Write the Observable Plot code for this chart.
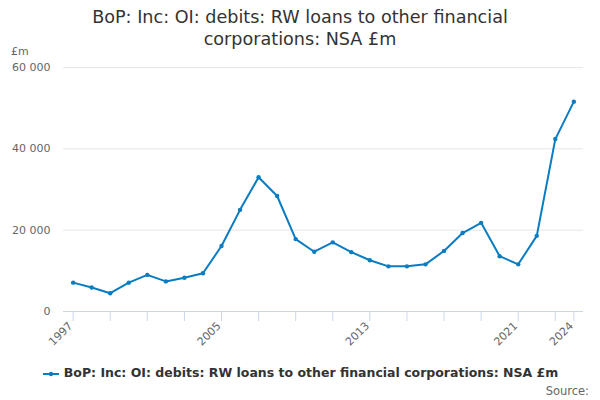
<!DOCTYPE html>
<html>
<head>
<meta charset="utf-8">
<script src="https://cdn.jsdelivr.net/npm/d3@7"></script>
<script src="https://cdn.jsdelivr.net/npm/@observablehq/plot@0.6"></script>
<style>
  html, body { margin: 0; padding: 0; background: #fff; }
  body { width: 600px; height: 400px; position: relative; font-family: "DejaVu Sans", sans-serif; overflow: hidden; }
  #title { position: absolute; top: 6px; left: 0; width: 600px; text-align: center; font-size: 17.6px; line-height: 22.4px; color: #333; }
  #chart { position: absolute; top: 45px; left: 0; }
  #unit { position: absolute; top: 45px; left: 11px; font-size: 11px; color: #666; }
  #legend { position: absolute; top: 365px; left: 0; width: 600px; text-align: center; font-size: 12.5px; font-weight: bold; color: #333; }
  #legend svg { vertical-align: middle; margin-right: 4px; }
  #source { position: absolute; top: 384px; right: 11px; font-size: 11.5px; color: #666; }
</style>
</head>
<body>
<div id="title">BoP: Inc: OI: debits: RW loans to other financial<br>corporations: NSA £m</div>
<div id="unit">£m</div>
<div id="chart"></div>
<div id="legend"><svg width="18" height="10"><line x1="1" y1="5" x2="17" y2="5" stroke="#0a7cc2" stroke-width="2"/><circle cx="9" cy="5" r="2.2" fill="#0a7cc2"/></svg>BoP: Inc: OI: debits: RW loans to other financial corporations: NSA £m</div>
<div id="source">Source:</div>
<script>
const years = [1997,1998,1999,2000,2001,2002,2003,2004,2005,2006,2007,2008,2009,2010,2011,2012,2013,2014,2015,2016,2017,2018,2019,2020,2021,2022,2023,2024];
const values = [7100,5900,4500,7100,9000,7400,8300,9400,16100,25000,33000,28400,17800,14700,17000,14600,12600,11100,11100,11600,14900,19300,21800,13600,11600,18600,42400,51600];
const xTickMarks = [1997,1999,2001,2003,2005,2007,2009,2011,2013,2015,2017,2019,2021,2023,2024];
const xTickLabels = [1997,2005,2013,2021,2024];
const yTicks = [0,20000,40000,60000];

const data = years.map((y, i) => ({year: y, value: values[i]}));
const fmt = v => d3.format(",")(v).replace(/,/g, " ");
const color = "#0a7cc2";

const chart = Plot.plot({
  width: 600,
  height: 305,
  marginTop: 22,
  marginBottom: 39,
  marginLeft: 63,
  marginRight: 17,
  style: {fontFamily: "DejaVu Sans, sans-serif", fontSize: "11px", color: "#666", background: "transparent"},
  x: {domain: [1996.48, 2024.52], axis: null, label: null},
  y: {domain: [0, 60000], axis: null, label: null},
  marks: [
    Plot.gridY(yTicks.filter(d => d > 0), {stroke: "#e6e6e6", strokeOpacity: 1}),
    Plot.axisY(yTicks, {tickSize: 0, tickPadding: 13, tickFormat: fmt, fill: "#666", fontSize: 11, label: null}),
    Plot.ruleY([0], {stroke: "#ccd6eb"}),
    Plot.axisX(xTickMarks, {tickSize: 10, stroke: "#ccd6eb", strokeOpacity: 1, tickFormat: () => "", label: null}),
    Plot.text(xTickLabels, {x: d => d, frameAnchor: "bottom", dy: 15, text: d => String(d), rotate: -45, textAnchor: "end", fill: "#666", fontSize: 11}),
    Plot.line(data, {x: "year", y: "value", stroke: color, strokeWidth: 2}),
    Plot.dot(data, {x: "year", y: "value", fill: color, r: 2.2})
  ]
});
document.getElementById("chart").appendChild(chart);
</script>
</body>
</html>
